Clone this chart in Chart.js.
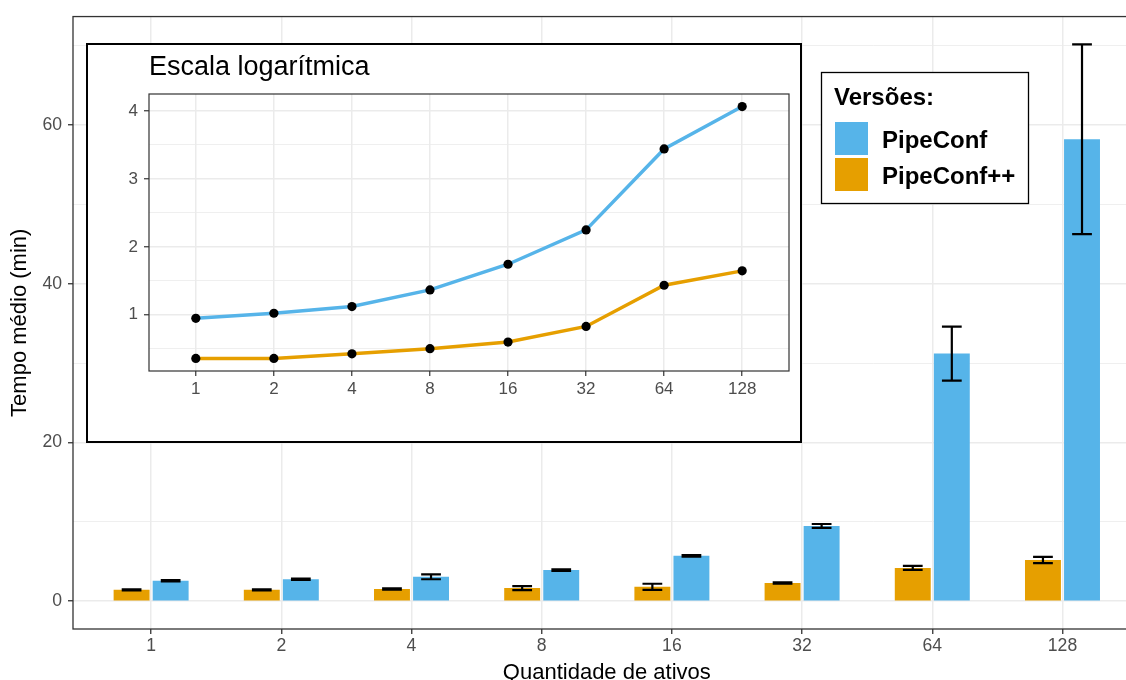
<!DOCTYPE html>
<html lang="pt">
<head>
<meta charset="utf-8">
<title>Tempo médio por quantidade de ativos</title>
<script src="https://cdn.jsdelivr.net/npm/chart.js@4.4.1/dist/chart.umd.min.js"></script>
<style>
  html, body { margin: 0; padding: 0; background: #fff; overflow: hidden; }
  #wrap { position: relative; width: 1126px; height: 680px; overflow: hidden; }
  #main { position: absolute; left: 0; top: 0; }
  #insetBox { position: absolute; left: 86px; top: 43px; width: 716px; height: 400px;
              box-sizing: border-box; border: 2px solid #000; background: #fff; }
  #inset { position: absolute; left: 0; top: 0; }
</style>
</head>
<body>
<div id="wrap">
  <canvas id="main" width="1150" height="700" style="width:1150px;height:700px"></canvas>
  <div id="insetBox">
    <canvas id="inset" width="712" height="396" style="width:712px;height:396px"></canvas>
  </div>
</div>
<script>
// Number of assets (x categories)
const categories = ['1', '2', '4', '8', '16', '32', '64', '128'];

// Mean time (min) and error half-width per version
const pipeConfMean   = [2.58, 2.78, 3.07, 3.92, 5.72, 9.48, 31.2, 58.2];
const pipeConfErr    = [0.08, 0.08, 0.30, 0.10, 0.10, 0.25, 3.4, 11.95];
const pipeConfPPMean = [1.43, 1.43, 1.53, 1.65, 1.82, 2.29, 4.20, 5.19];
const pipeConfPPErr  = [0.08, 0.08, 0.08, 0.25, 0.38, 0.08, 0.25, 0.40];

// Tick values
const mainYTicks   = [0, 10, 20, 30, 40, 50, 60, 70];
const mainYLabeled = [0, 20, 40, 60];
const insetYTicks   = [0.5, 1, 1.5, 2, 2.5, 3, 3.5, 4];
const insetYLabeled = [1, 2, 3, 4];

const BLUE = '#56B4E9';
const ORANGE = '#E69F00';
const GRID = '#EBEBEB';
const AXIS = '#333333';
const TICKTXT = '#4D4D4D';

Chart.defaults.font.family = '"Liberation Sans", Arial, Helvetica, sans-serif';
Chart.defaults.color = TICKTXT;

const catTicks = scale => { scale.ticks = categories.map((_, i) => ({ value: i })); };

// Error bars on top of the bars
const errorBars = {
  id: 'errorBars',
  afterDatasetsDraw(chart) {
    const { ctx } = chart;
    const y = chart.scales.y;
    ctx.save();
    ctx.strokeStyle = '#000';
    ctx.lineWidth = 2.2;
    chart.data.datasets.forEach((ds, di) => {
      const meta = chart.getDatasetMeta(di);
      meta.data.forEach((bar, i) => {
        const v = ds.data[i].y, e = ds.errors[i];
        const yt = y.getPixelForValue(v + e);
        const yb = y.getPixelForValue(v - e);
        const hw = bar.width * 0.275;
        ctx.beginPath();
        ctx.moveTo(bar.x, yt); ctx.lineTo(bar.x, yb);
        ctx.moveTo(bar.x - hw, yt); ctx.lineTo(bar.x + hw, yt);
        ctx.moveTo(bar.x - hw, yb); ctx.lineTo(bar.x + hw, yb);
        ctx.stroke();
      });
    });
    ctx.restore();
  }
};

// Panel border and the legend box
const panelAndLegend = {
  id: 'panelAndLegend',
  afterDraw(chart) {
    const { ctx, chartArea: a } = chart;
    ctx.save();
    ctx.strokeStyle = AXIS;
    ctx.lineWidth = 1.3;
    ctx.strokeRect(a.left, a.top, a.right - a.left, a.bottom - a.top);

    // legend
    const items = chart.data.datasets.slice().reverse();
    ctx.fillStyle = '#fff';
    ctx.fillRect(821, 72, 208, 132);
    ctx.strokeStyle = '#000';
    ctx.lineWidth = 1.3;
    ctx.strokeRect(821.5, 72.5, 207, 131);
    ctx.fillStyle = '#000';
    ctx.textAlign = 'left';
    ctx.textBaseline = 'alphabetic';
    ctx.font = 'bold 24px "Liberation Sans", Arial, sans-serif';
    ctx.fillText('Versões:', 834, 105);
    items.forEach((ds, k) => {
      const top = 122 + k * 36;
      ctx.fillStyle = ds.backgroundColor;
      ctx.fillRect(835, top, 33, 33);
      ctx.fillStyle = '#000';
      ctx.fillText(ds.label, 882, top + 26);
    });
    ctx.restore();
  }
};

new Chart(document.getElementById('main'), {
  type: 'bar',
  data: {
    datasets: [
      { label: 'PipeConf++', backgroundColor: ORANGE, errors: pipeConfPPErr,
        data: pipeConfPPMean.map((v, i) => ({ x: i, y: v })) },
      { label: 'PipeConf', backgroundColor: BLUE, errors: pipeConfErr,
        data: pipeConfMean.map((v, i) => ({ x: i, y: v })) }
    ]
  },
  options: {
    responsive: false,
    devicePixelRatio: 1,
    animation: false,
    events: [],
    layout: { padding: { left: 0, top: 15, right: 9.4, bottom: 0 } },
    datasets: { bar: { categoryPercentage: 0.6, barPercentage: 0.92 } },
    plugins: { legend: { display: false }, tooltip: { enabled: false } },
    scales: {
      x: {
        type: 'linear', min: -0.6, max: 7.6, offset: false,
        afterBuildTicks: catTicks,
        afterFit: s => { s.height = 71; },
        border: { display: false },
        grid: { offset: false, color: GRID, lineWidth: 1.5, tickColor: AXIS, tickLength: 5, tickWidth: 1.3 },
        ticks: { autoSkip: false, maxRotation: 0, padding: 2, color: TICKTXT,
                 font: { size: 17.6 }, callback: v => categories[v] },
        title: { display: true, text: 'Quantidade de ativos', color: '#000',
                 font: { size: 22 }, padding: { top: 0, bottom: 14 } }
      },
      y: {
        type: 'linear', min: -3.5, max: 73.65,
        afterBuildTicks: s => { s.ticks = mainYTicks.map(v => ({ value: v })); },
        afterFit: s => { s.width = 73; },
        border: { display: false },
        grid: {
          color: GRID,
          lineWidth: c => mainYLabeled.includes(c.tick.value) ? 1.5 : 0.8,
          tickColor: c => mainYLabeled.includes(c.tick.value) ? AXIS : 'rgba(0,0,0,0)',
          tickLength: 5, tickWidth: 1.3
        },
        ticks: { padding: 6, color: TICKTXT, font: { size: 17.6 },
                 callback: v => mainYLabeled.includes(v) ? String(v) : '' },
        title: { display: true, text: 'Tempo médio (min)', color: '#000',
                 font: { size: 22 }, padding: { top: 6.5, bottom: 0 } }
      }
    }
  },
  plugins: [errorBars, panelAndLegend]
});

// Inset: same means on a logarithmic scale
const insetDecor = {
  id: 'insetDecor',
  afterDraw(chart) {
    const { ctx, chartArea: a } = chart;
    ctx.save();
    ctx.strokeStyle = AXIS;
    ctx.lineWidth = 1.2;
    ctx.strokeRect(a.left, a.top, a.right - a.left, a.bottom - a.top);
    ctx.fillStyle = '#000';
    ctx.textAlign = 'left';
    ctx.textBaseline = 'alphabetic';
    ctx.font = '27px "Liberation Sans", Arial, sans-serif';
    ctx.fillText('Escala logarítmica', a.left, 30);
    ctx.restore();
  }
};

const lineStyle = color => ({
  borderColor: color, borderWidth: 3.5, tension: 0,
  pointRadius: 4.6, pointBackgroundColor: '#000', pointBorderWidth: 0
});

new Chart(document.getElementById('inset'), {
  type: 'line',
  data: {
    datasets: [
      Object.assign({ label: 'PipeConf',
        data: pipeConfMean.map((v, i) => ({ x: i, y: Math.log(v) })) }, lineStyle(BLUE)),
      Object.assign({ label: 'PipeConf++',
        data: pipeConfPPMean.map((v, i) => ({ x: i, y: Math.log(v) })) }, lineStyle(ORANGE))
    ]
  },
  options: {
    responsive: false,
    devicePixelRatio: 1,
    animation: false,
    events: [],
    layout: { padding: { left: 0, top: 49, right: 11, bottom: 0 } },
    plugins: { legend: { display: false }, tooltip: { enabled: false } },
    scales: {
      x: {
        type: 'linear', min: -0.6, max: 7.6, offset: false,
        afterBuildTicks: catTicks,
        afterFit: s => { s.height = 70; },
        border: { display: false },
        grid: { offset: false, color: GRID, lineWidth: 1.5, tickColor: AXIS, tickLength: 5, tickWidth: 1.2 },
        ticks: { autoSkip: false, maxRotation: 0, padding: 3, color: TICKTXT,
                 font: { size: 17 }, callback: v => categories[v] }
      },
      y: {
        type: 'linear', min: 0.173, max: 4.249,
        afterBuildTicks: s => { s.ticks = insetYTicks.map(v => ({ value: v })); },
        afterFit: s => { s.width = 61; },
        border: { display: false },
        grid: {
          color: GRID,
          lineWidth: c => insetYLabeled.includes(c.tick.value) ? 1.5 : 0.8,
          tickColor: c => insetYLabeled.includes(c.tick.value) ? AXIS : 'rgba(0,0,0,0)',
          tickLength: 5, tickWidth: 1.2
        },
        ticks: { padding: 6, color: TICKTXT, font: { size: 17 },
                 callback: v => insetYLabeled.includes(v) ? String(v) : '' }
      }
    }
  },
  plugins: [insetDecor]
});
</script>
</body>
</html>
